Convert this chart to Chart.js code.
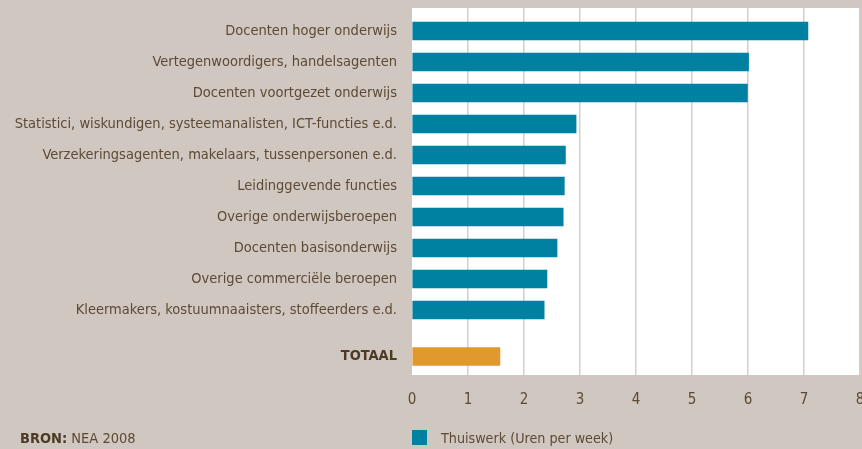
<!DOCTYPE html>
<html>
<head>
<meta charset="utf-8">
<script src="https://cdn.jsdelivr.net/npm/chart.js@4.4.1/dist/chart.umd.min.js"></script>
<style>
    html, body { margin: 0; padding: 0; background: #d0c7c0; }
    #wrap { position: relative; width: 862px; height: 449px; font-family: "DejaVu Sans Condensed", "DejaVu Sans", sans-serif; color: #5c4a36; }
    #chart-thuiswerk { position: absolute; left: 0; top: 0; }
    .legend { position: absolute; left: 412px; top: 430px; font-size: 14.2px; line-height: 17px; }
    .legend span.box { display: inline-block; width: 15px; height: 15px; background: #0081a1; vertical-align: top; margin-right: 14px; }
    .source { position: absolute; left: 20px; top: 430px; font-size: 14.5px; line-height: 17px; }
    .source b { color: #4b3a25; }
</style>
</head>
<body>
<div id="wrap">
    <canvas id="chart-thuiswerk" width="862" height="449"></canvas>
    <div class="source"><b>BRON:</b> NEA 2008</div>
    <div class="legend"><span class="box"></span>Thuiswerk (Uren per week)</div>
</div>
<script>
const categories = [
    'Docenten hoger onderwijs',
    'Vertegenwoordigers, handelsagenten',
    'Docenten voortgezet onderwijs',
    'Statistici, wiskundigen, systeemanalisten, ICT-functies e.d.',
    'Verzekeringsagenten, makelaars, tussenpersonen e.d.',
    'Leidinggevende functies',
    'Overige onderwijsberoepen',
    'Docenten basisonderwijs',
    'Overige commerciële beroepen',
    'Kleermakers, kostuumnaaisters, stoffeerders e.d.',
    'TOTAAL'
];
const thuiswerk = [7.07, 6.01, 5.99, 2.93, 2.74, 2.72, 2.70, 2.59, 2.41, 2.36, 1.57];
const xTicks = [0, 1, 2, 3, 4, 5, 6, 7, 8];

// slot positions: TOTAAL sits a half slot lower than the rest
const positions = categories.map((c, i) => i < categories.length - 1 ? i : i + 0.5);
const isTotal = i => categories[i] === 'TOTAAL';

const labelFont = 'DejaVu Sans Condensed';
const chartElement = document.getElementById('chart-thuiswerk');

const plotBackground = {
    id: 'plotBackground',
    beforeDraw(chart) {
        const a = chart.chartArea;
        const ctx = chart.ctx;
        ctx.save();
        ctx.fillStyle = '#ffffff';
        ctx.fillRect(a.left, a.top, a.right - a.left, a.bottom - a.top);
        ctx.restore();
    }
};

const chart = new Chart(chartElement, {
    type: 'bar',
    data: {
        datasets: [{
            label: 'Thuiswerk (Uren per week)',
            data: thuiswerk.map((v, i) => ({ x: v, y: positions[i] })),
            backgroundColor: thuiswerk.map((v, i) => isTotal(i) ? '#e0992f' : '#0081a1'),
            barThickness: 18,
            borderWidth: 0
        }]
    },
    plugins: [plotBackground],
    options: {
        indexAxis: 'y',
        responsive: false,
        animation: false,
        layout: {
            padding: { top: 8, right: 2, bottom: 40, left: 0 }
        },
        scales: {
            x: {
                type: 'linear',
                offset: false,
                min: 0,
                max: 8,
                afterBuildTicks: scale => { scale.ticks = xTicks.map(v => ({ value: v })); },
                afterFit: scale => {
                    scale.height = 34;
                    scale.paddingLeft = 0;
                    scale.paddingRight = 0;
                },
                border: { display: false },
                grid: {
                    offset: false,
                    drawTicks: false,
                    lineWidth: 1.5,
                    color: ctx => ctx.index === 0 ? 'rgba(0,0,0,0)' : '#d6cec7'
                },
                ticks: {
                    padding: 16,
                    color: '#5c4a36',
                    font: { family: labelFont, size: 15 }
                }
            },
            y: {
                type: 'linear',
                offset: false,
                reverse: true,
                min: -0.742,
                max: 11.097,
                afterBuildTicks: scale => { scale.ticks = positions.map(v => ({ value: v })); },
                afterFit: scale => {
                    scale.width = 412;
                    scale.paddingTop = 0;
                    scale.paddingBottom = 0;
                },
                border: { display: false },
                grid: { display: false, drawTicks: false, offset: false },
                ticks: {
                    padding: 15,
                    autoSkip: false,
                    callback: (value, index) => categories[index],
                    color: ctx => isTotal(ctx.index) ? '#4b3a25' : '#5c4a36',
                    font: ctx => ({
                        family: labelFont,
                        size: 14.5,
                        weight: isTotal(ctx.index) ? 'bold' : 'normal'
                    })
                }
            }
        },
        plugins: {
            legend: { display: false },
            tooltip: { enabled: false }
        }
    }
});
</script>
</body>
</html>
